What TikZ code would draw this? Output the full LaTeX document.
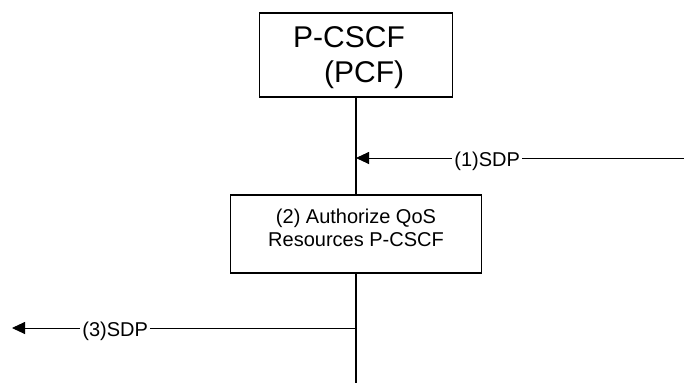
\documentclass[tikz,border=0pt]{standalone}
\usepackage{fontspec}
\setmainfont{Liberation Sans}
\usetikzlibrary{arrows.meta,positioning}

\begin{document}
\begin{tikzpicture}[x=1pt,y=-1pt,
    box/.style={draw,line width=1.2pt,inner sep=0pt},
    msg/.style={-{Triangle[length=13pt,width=12pt]},line width=0.9pt},
    lbl/.style={fill=white,inner xsep=2.5pt,inner ysep=1pt,yshift=-3pt,font=\fontsize{20}{24}\selectfont}]
    \useasboundingbox (0,0) rectangle (684,383);

    \node[box,minimum width=193pt,minimum height=84pt] (pcscf) at (356,55) {};
    \node[align=left,font=\fontsize{30}{35}\selectfont,xshift=-7pt,yshift=-3pt] (pcscf_t) at (pcscf.center) {P-CSCF\\\hspace*{31pt}(PCF)};
    \node[box,minimum width=251pt,minimum height=78pt] (qos) at (356,234) {};
    \node[align=center,font=\fontsize{20}{23.5}\selectfont,yshift=6pt] (qos_t) at (qos.center) {(2) Authorize QoS\\Resources P-CSCF};

    \coordinate (r_1) at (356,158);
    \coordinate (r_3) at (356,328);
    \coordinate (end) at (356,383);
    \coordinate (in_1) at (684,158);
    \coordinate (out_3) at (12,328);

    \draw[line width=1.3pt] (pcscf) -- (qos) (qos) -- (end);

    \path[msg]
    (in_1) edge node[lbl,pos=0.6] {(1)SDP} (r_1)
    (r_3) edge node[lbl,pos=0.7] {(3)SDP} (out_3)
    ;
\end{tikzpicture}
\end{document}
